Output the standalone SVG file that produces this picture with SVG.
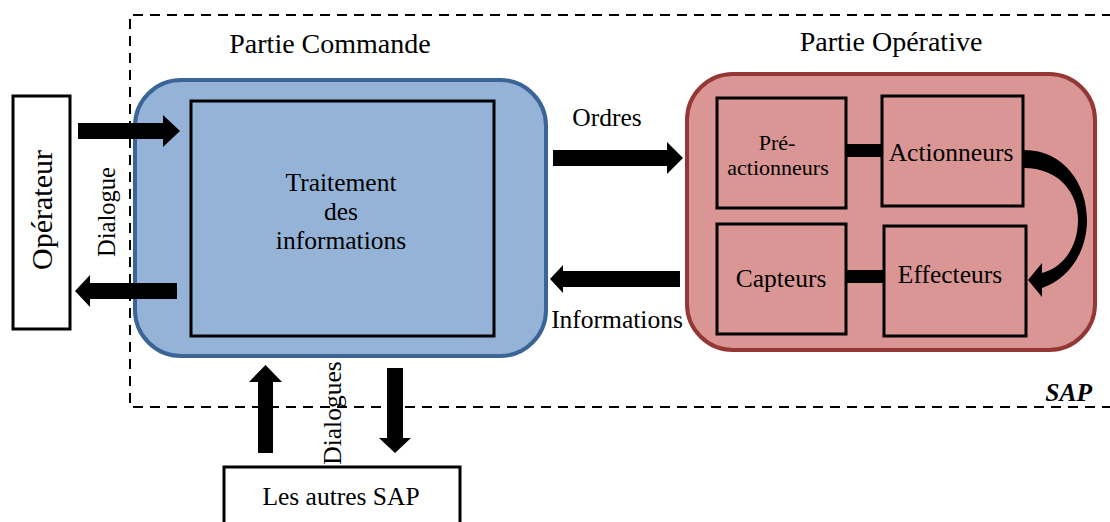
<svg xmlns="http://www.w3.org/2000/svg" width="1110" height="522" viewBox="0 0 1110 522">
<style>
text{font-family:"Liberation Serif","Times New Roman",serif;fill:#000}
.t{font-size:25.5px}
.h{font-size:28px}
.m{text-anchor:middle}
.box{fill:#fff;stroke:#000;stroke-width:3}
.sub{fill:#D99694;stroke:#000;stroke-width:3}
.arr{fill:#000}
</style>
<rect width="1110" height="522" fill="#fff"/>
<g id="sap-border">
<path d="M1112,15 H130 V407 H1112" fill="none" stroke="#000" stroke-width="2" stroke-dasharray="10 7"/>
<text x="1092" y="401" class="t" style="font-weight:bold;font-style:italic" text-anchor="end">SAP</text>
</g>
<g id="operateur">
<rect x="13" y="96" width="57" height="233" class="box"/>
<text transform="translate(52,210) rotate(-90)" class="m" style="font-size:30px">Opérateur</text>
</g>
<g id="partie-commande">
<text x="330" y="53" class="h m">Partie Commande</text>
<rect x="135" y="80" width="411" height="276" rx="46" ry="46" fill="#95B3D7" stroke="#3A6596" stroke-width="4"/>
</g>
<g id="traitement">
<rect x="191" y="101" width="303" height="235" fill="#95B3D7" stroke="#000" stroke-width="3"/>
<text x="341" y="191" class="t m">Traitement</text>
<text x="341" y="220" class="t m">des</text>
<text x="341" y="249" class="t m">informations</text>
</g>
<g id="partie-operative">
<text x="891" y="51" class="h m">Partie Opérative</text>
<rect x="687" y="74" width="408" height="276" rx="46" ry="46" fill="#D99694" stroke="#953735" stroke-width="4"/>
</g>
<g id="pre-actionneurs">
<rect x="717" y="98" width="129" height="110" class="sub"/>
<text x="777" y="150" class="m" style="font-size:22px">Pré-</text>
<text x="778" y="175" class="m" style="font-size:22px">actionneurs</text>
</g>
<g id="actionneurs">
<rect x="882" y="96" width="141" height="110" class="sub"/>
<text x="951" y="161" class="t m">Actionneurs</text>
</g>
<g id="capteurs">
<rect x="717" y="224" width="129" height="110" class="sub"/>
<text x="781" y="287" class="t m">Capteurs</text>
</g>
<g id="effecteurs">
<rect x="884" y="226" width="142" height="110" class="sub"/>
<text x="950" y="283" class="t m">Effecteurs</text>
</g>
<g id="autres-sap">
<rect x="224" y="467" width="236" height="60" class="box"/>
<text x="341" y="505" class="t m">Les autres SAP</text>
</g>
<g id="connectors">
<polygon class="arr" points="78,123 163,123 163,115 180,131 163,147 163,139 78,139"/>
<polygon class="arr" points="177,283 90,283 90,275 75,291 90,307 90,299 177,299"/>
<text transform="translate(115,212) rotate(-90)" class="m" style="font-size:24.5px">Dialogue</text>
<polygon class="arr" points="553,150 667,150 667,142 683,158 667,174 667,166 553,166"/>
<text x="607" y="126" class="t m">Ordres</text>
<polygon class="arr" points="680,271 563,271 563,265 550,279 563,293 563,287 680,287"/>
<text x="617" y="328" class="t m">Informations</text>
<polygon class="arr" points="258,453 258,382 249,382 265.5,365 282,382 273,382 273,453"/>
<polygon class="arr" points="387,368 403,368 403,438 411,438 395,453 379,438 387,438"/>
<text transform="translate(341,413) rotate(-90)" class="t m">Dialogues</text>
<rect class="arr" x="846" y="144" width="36" height="13"/>
<rect class="arr" x="846" y="270" width="38" height="13"/>
<path class="arr" d="M1024,150 C1065,150 1087,185 1087,220 C1087,255 1066,280 1042,288 L1042,297 L1028,280 L1042,263 L1042,273 C1062,268 1078,248 1078,220 C1078,192 1058,168 1024,168 Z"/>
</g>
</svg>
